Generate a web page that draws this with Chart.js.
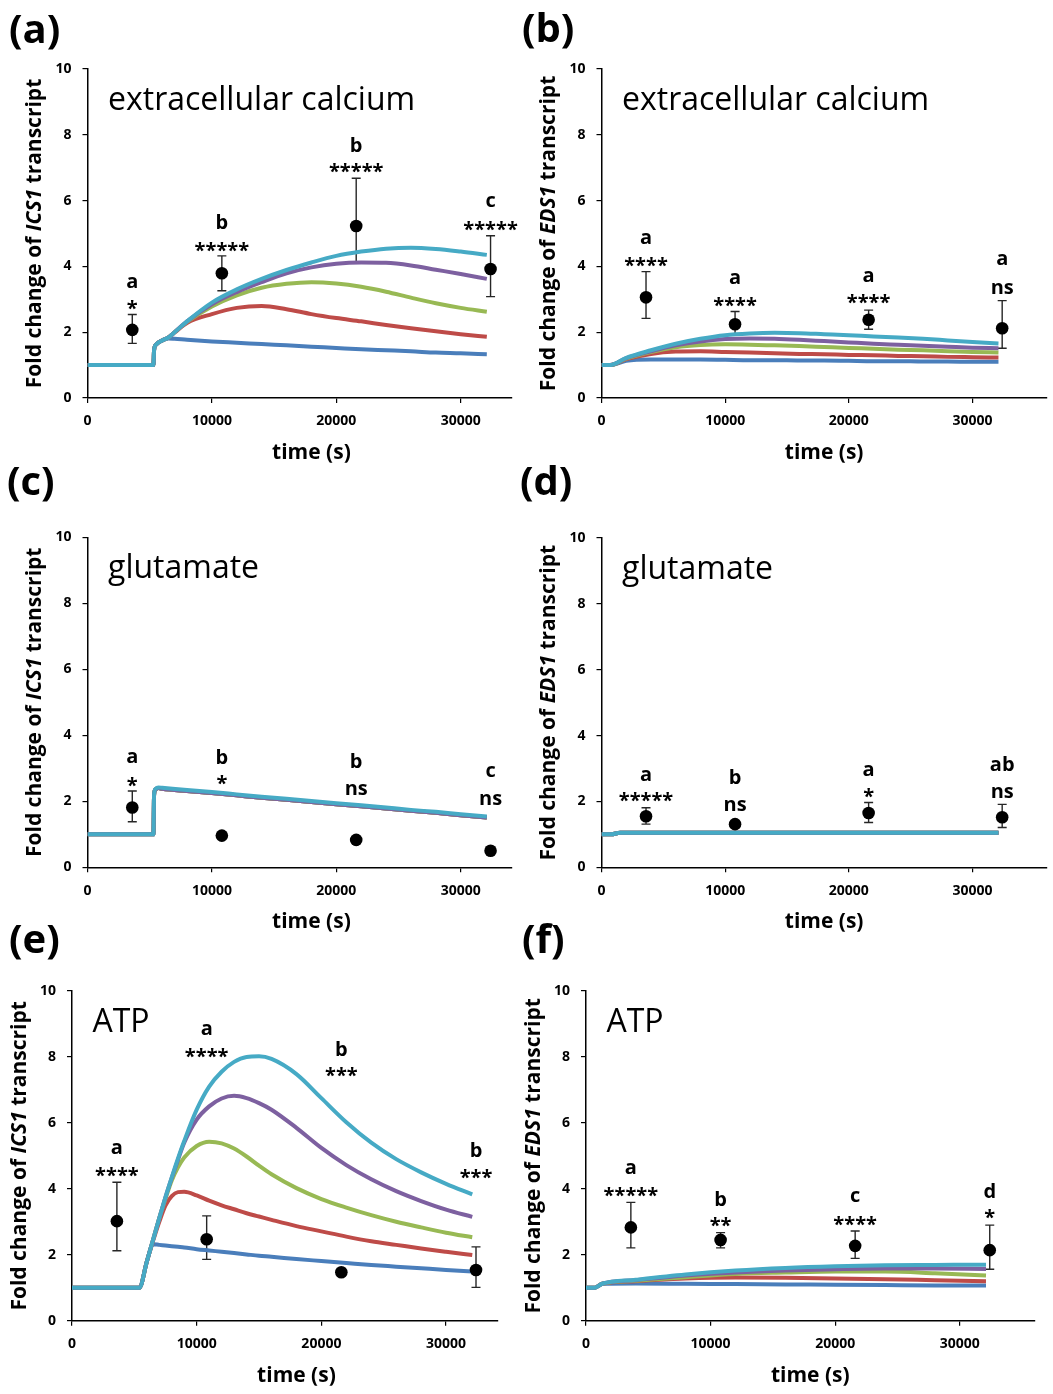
<!DOCTYPE html>
<html>
<head>
<meta charset="utf-8">
<script src="https://cdn.jsdelivr.net/npm/chart.js@4.4.1/dist/chart.umd.min.js"></script>
<style>
  body { margin: 0; background: #fff; width: 1053px; height: 1394px; position: relative; overflow: hidden; }
  .panel { position: absolute; }
  .tag { position: absolute; font: bold 40px/40px 'Open Sans', sans-serif; color: #000; z-index: 2; }
</style>
</head>
<body>
<script>
// sampling times (s) of the measured transcripts
const sampleT = [3600, 10800, 21600, 32400];

// (a) ICS1, extracellular calcium: simulated curves
const tA      = [0, 5300, 5350, 5500, 6000, 6500, 7000, 8000, 10000, 12000, 14000, 16000, 18000, 20000, 22000, 24000, 26000, 28000, 30000, 32100];
const cyanA   = [1, 1, 1.45, 1.62, 1.75, 1.84, 2.00, 2.33, 2.90, 3.30, 3.62, 3.89, 4.12, 4.32, 4.45, 4.54, 4.57, 4.53, 4.45, 4.35];
const purpleA = [1, 1, 1.45, 1.62, 1.75, 1.84, 2.00, 2.33, 2.85, 3.22, 3.52, 3.79, 3.97, 4.08, 4.12, 4.11, 4.03, 3.90, 3.77, 3.62];
const greenA  = [1, 1, 1.45, 1.62, 1.75, 1.84, 2.00, 2.31, 2.78, 3.12, 3.35, 3.47, 3.52, 3.48, 3.38, 3.23, 3.05, 2.88, 2.74, 2.62];
const redA    = [1, 1, 1.45, 1.62, 1.75, 1.84, 1.99, 2.28, 2.55, 2.74, 2.80, 2.70, 2.55, 2.43, 2.33, 2.22, 2.12, 2.03, 1.94, 1.86];
const blueA   = [1, 1, 1.45, 1.62, 1.75, 1.81, 1.80, 1.77, 1.72, 1.68, 1.64, 1.60, 1.56, 1.52, 1.48, 1.45, 1.42, 1.38, 1.36, 1.33];
const meanA = [2.07, 3.79, 5.23, 3.92];
const upA   = [0.47, 0.53, 1.45, 1.01];
const downA = [0.41, 0.53, 1.13, 0.84];
const lettersA = ['a', 'b', 'b', 'c'];
const sigA     = ['*', '*****', '*****', '*****'];
const letterYA = [3.50, 5.36, 7.72, 5.97];
const sigYA    = [2.83, 4.60, 6.99, 5.24];

// (b) EDS1, extracellular calcium
const tB      = [0, 700, 2000, 4000, 6000, 8000, 10000, 12000, 14000, 16000, 18000, 20000, 22000, 24000, 26000, 28000, 30000, 32100];
const cyanB   = [1, 1, 1.22, 1.45, 1.65, 1.80, 1.91, 1.96, 1.98, 1.97, 1.94, 1.91, 1.87, 1.84, 1.80, 1.75, 1.70, 1.66];
const purpleB = [1, 1, 1.21, 1.42, 1.60, 1.72, 1.79, 1.81, 1.80, 1.77, 1.73, 1.69, 1.65, 1.62, 1.59, 1.56, 1.53, 1.51];
const greenB  = [1, 1, 1.20, 1.40, 1.54, 1.61, 1.63, 1.62, 1.60, 1.58, 1.55, 1.52, 1.50, 1.47, 1.45, 1.42, 1.40, 1.38];
const redB    = [1, 1, 1.18, 1.34, 1.41, 1.42, 1.40, 1.38, 1.36, 1.34, 1.33, 1.31, 1.30, 1.28, 1.27, 1.25, 1.24, 1.23];
const blueB   = [1, 1, 1.13, 1.17, 1.17, 1.17, 1.16, 1.15, 1.15, 1.14, 1.14, 1.13, 1.12, 1.12, 1.11, 1.11, 1.10, 1.10];
const meanB = [3.06, 2.24, 2.38, 2.12];
const upB   = [0.78, 0.39, 0.29, 0.84];
const downB = [0.64, 0.33, 0.29, 0.61];
const lettersB = ['a', 'a', 'a', 'a'];
const sigB     = ['****', '****', '****', 'ns'];
const letterYB = [4.84, 3.63, 3.69, 4.22];
const sigYB    = [4.14, 2.93, 3.00, 3.32];

// (c) ICS1, glutamate (all five curves nearly coincide)
const tC    = [0, 5300, 5350, 5450, 5700, 6000, 8000, 10000, 12000, 14000, 16000, 18000, 20000, 22000, 24000, 26000, 28000, 30000, 32100];
const cyanC = [1, 1, 2.20, 2.37, 2.42, 2.41, 2.34, 2.28, 2.21, 2.14, 2.08, 2.01, 1.94, 1.88, 1.81, 1.74, 1.68, 1.61, 1.54];
const lowC  = [1, 1, 2.18, 2.35, 2.40, 2.38, 2.31, 2.25, 2.18, 2.11, 2.05, 1.98, 1.91, 1.85, 1.78, 1.71, 1.65, 1.58, 1.51];
const meanC = [1.81, 0.96, 0.83, 0.50];
const upC   = [0.50, 0.05, 0.10, 0.06];
const downC = [0.43, 0.05, 0.10, 0.06];
const lettersC = ['a', 'b', 'b', 'c'];
const sigC     = ['*', '*', 'ns', 'ns'];
const letterYC = [3.32, 3.37, 3.25, 2.90];
const sigYC    = [2.59, 2.65, 2.36, 2.04];

// (d) EDS1, glutamate
const tD    = [0, 800, 1500, 16000, 32100];
const flatD = [1, 1, 1.05, 1.05, 1.05];
const meanD = [1.55, 1.31, 1.65, 1.52];
const upD   = [0.26, 0.10, 0.32, 0.39];
const downD = [0.24, 0.10, 0.29, 0.31];
const lettersD = ['a', 'b', 'a', 'ab'];
const sigD     = ['*****', 'ns', '*', 'ns'];
const letterYD = [2.80, 2.75, 2.95, 3.15];
const sigYD    = [2.12, 1.87, 2.27, 2.27];

// (e) ICS1, ATP
const tE      = [0, 5400, 6000, 6500, 7000, 7500, 8000, 8500, 9000, 10000, 11000, 12000, 13000, 14000, 15000, 16000, 18000, 20000, 22000, 24000, 26000, 28000, 30000, 32100];
const cyanE   = [1, 1, 1.79, 2.45, 3.11, 3.75, 4.35, 4.92, 5.45, 6.40, 7.10, 7.55, 7.85, 8.00, 8.02, 7.94, 7.48, 6.75, 6.02, 5.40, 4.90, 4.50, 4.15, 3.83];
const purpleE = [1, 1, 1.79, 2.45, 3.11, 3.75, 4.33, 4.88, 5.40, 6.10, 6.50, 6.74, 6.82, 6.75, 6.60, 6.40, 5.85, 5.24, 4.72, 4.29, 3.93, 3.63, 3.37, 3.15];
const greenE  = [1, 1, 1.79, 2.45, 3.11, 3.70, 4.25, 4.65, 4.95, 5.30, 5.43, 5.38, 5.22, 4.98, 4.70, 4.44, 4.02, 3.69, 3.43, 3.20, 3.00, 2.83, 2.67, 2.53];
const redE    = [1, 1, 1.79, 2.42, 3.00, 3.50, 3.78, 3.90, 3.91, 3.80, 3.64, 3.50, 3.38, 3.26, 3.16, 3.06, 2.87, 2.71, 2.55, 2.41, 2.30, 2.19, 2.09, 1.99];
const blueE   = [1, 1, 1.79, 2.32, 2.30, 2.28, 2.26, 2.24, 2.22, 2.17, 2.13, 2.09, 2.05, 2.01, 1.97, 1.94, 1.87, 1.81, 1.75, 1.69, 1.64, 1.59, 1.54, 1.49];
const meanE = [3.02, 2.47, 1.47, 1.54];
const upE   = [1.18, 0.71, 0.10, 0.70];
const downE = [0.90, 0.61, 0.10, 0.53];
const lettersE = ['a', 'a', 'b', 'b'];
const sigE     = ['****', '****', '***', '***'];
const letterYE = [5.22, 8.82, 8.26, 5.18];
const sigYE    = [4.52, 8.11, 7.53, 4.44];

// (f) EDS1, ATP
const tF      = [0, 700, 1300, 4000, 8000, 12000, 16000, 20000, 24000, 28000, 32100];
const cyanF   = [1, 1, 1.12, 1.24, 1.40, 1.52, 1.60, 1.65, 1.68, 1.69, 1.70];
const purpleF = [1, 1, 1.12, 1.23, 1.37, 1.46, 1.52, 1.56, 1.58, 1.58, 1.57];
const greenF  = [1, 1, 1.12, 1.21, 1.32, 1.42, 1.46, 1.49, 1.49, 1.44, 1.37];
const redF    = [1, 1, 1.12, 1.20, 1.28, 1.31, 1.30, 1.28, 1.26, 1.23, 1.20];
const blueF   = [1, 1, 1.12, 1.13, 1.12, 1.11, 1.10, 1.09, 1.08, 1.07, 1.07];
const meanF = [2.83, 2.45, 2.27, 2.14];
const upF   = [0.76, 0.22, 0.45, 0.76];
const downF = [0.62, 0.24, 0.38, 0.58];
const lettersF = ['a', 'b', 'c', 'd'];
const sigF     = ['*****', '**', '****', '*'];
const letterYF = [4.62, 3.71, 3.76, 3.96];
const sigYF    = [3.89, 2.98, 3.02, 3.24];

const yTicks = [0, 2, 4, 6, 8, 10];
const xTicks = [0, 10000, 20000, 30000];

// series colours, drawn back to front: blue, red, green, purple, cyan on top
const colors = ['#46AAC5', '#7D60A0', '#98B954', '#BE4B48', '#4A7EBB'];

const FONT = "'Open Sans', sans-serif";
Chart.defaults.font.family = FONT;

// box = canvas [left, top, width, height] on the page, area = plot area [left, top, right, bottom]
// the left column is cut short, so its time axis stops before 36000 s
const panels = [
  { tag: '(a)', tagPos: [9, 8], box: [0, 40, 548, 430], area: [87.5, 69, 511.7, 398], xMax: 34100,
    gene: 'ICS1', title: 'extracellular calcium', t: tA, series: [cyanA, purpleA, greenA, redA, blueA],
    mean: meanA, up: upA, down: downA, letters: lettersA, sig: sigA, letterY: letterYA, sigY: sigYA },
  { tag: '(b)', tagPos: [522, 7], box: [520, 40, 533, 430], area: [601.5, 69, 1049.5, 398], xMax: 36000,
    gene: 'EDS1', title: 'extracellular calcium', t: tB, series: [cyanB, purpleB, greenB, redB, blueB],
    mean: meanB, up: upB, down: downB, letters: lettersB, sig: sigB, letterY: letterYB, sigY: sigYB },
  { tag: '(c)', tagPos: [7, 460], box: [0, 505, 548, 430], area: [87.5, 537.3, 511.7, 867.3], xMax: 34100,
    gene: 'ICS1', title: 'glutamate', t: tC, series: [cyanC, lowC, lowC, lowC, lowC],
    mean: meanC, up: upC, down: downC, letters: lettersC, sig: sigC, letterY: letterYC, sigY: sigYC },
  { tag: '(d)', tagPos: [520, 460], box: [520, 505, 533, 430], area: [601.5, 538, 1049.5, 867.3], xMax: 36000,
    gene: 'EDS1', title: 'glutamate', t: tD, series: [flatD, flatD, flatD, flatD, flatD],
    mean: meanD, up: upD, down: downD, letters: lettersD, sig: sigD, letterY: letterYD, sigY: sigYD },
  { tag: '(e)', tagPos: [9, 918], box: [0, 960, 548, 434], area: [72, 991, 497.2, 1320.7], xMax: 34100,
    gene: 'ICS1', title: 'ATP', t: tE, series: [cyanE, purpleE, greenE, redE, blueE],
    mean: meanE, up: upE, down: downE, letters: lettersE, sig: sigE, letterY: letterYE, sigY: sigYE },
  { tag: '(f)', tagPos: [522, 918], box: [520, 960, 533, 434], area: [586, 991, 1034.6, 1320.7], xMax: 36000,
    gene: 'EDS1', title: 'ATP', t: tF, series: [cyanF, purpleF, greenF, redF, blueF],
    mean: meanF, up: upF, down: downF, letters: lettersF, sig: sigF, letterY: letterYF, sigY: sigYF }
];

// draw text so that its glyphs are vertically centred on cy
function textMid(ctx, text, x, cy) {
  const m = ctx.measureText(text);
  ctx.fillText(text, x, cy + (m.actualBoundingBoxAscent - m.actualBoundingBoxDescent) / 2);
}

function decorPlugin(p) {
  return {
    id: 'decor',
    beforeDatasetsDraw(chart) {
      // error bars sit under the curves
      const ctx = chart.ctx, x = chart.scales.x, y = chart.scales.y;
      ctx.save();
      ctx.strokeStyle = '#262626';
      ctx.lineWidth = 1.4;
      sampleT.forEach((t, i) => {
        const px = x.getPixelForValue(t);
        const top = y.getPixelForValue(p.mean[i] + p.up[i]);
        const bot = y.getPixelForValue(p.mean[i] - p.down[i]);
        ctx.beginPath();
        ctx.moveTo(px, top); ctx.lineTo(px, bot);
        ctx.moveTo(px - 4.5, top); ctx.lineTo(px + 4.5, top);
        ctx.moveTo(px - 4.5, bot); ctx.lineTo(px + 4.5, bot);
        ctx.stroke();
      });
      ctx.restore();
    },
    afterDatasetsDraw(chart) {
      // group letters and significance stars above each sample
      const ctx = chart.ctx, x = chart.scales.x, y = chart.scales.y;
      ctx.save();
      ctx.fillStyle = '#000';
      ctx.textAlign = 'center';
      ctx.textBaseline = 'alphabetic';
      ctx.font = 'bold 20px ' + FONT;
      sampleT.forEach((t, i) => {
        const px = x.getPixelForValue(t);
        textMid(ctx, p.letters[i], px, y.getPixelForValue(p.letterY[i]));
        textMid(ctx, p.sig[i], px, y.getPixelForValue(p.sigY[i]));
      });
      ctx.restore();
    },
    afterDraw(chart) {
      const ctx = chart.ctx, a = chart.chartArea;
      ctx.save();
      ctx.fillStyle = '#000';
      // treatment name
      ctx.font = '32px ' + FONT;
      ctx.textAlign = 'left';
      ctx.textBaseline = 'alphabetic';
      ctx.fillText(p.title, a.left + 20.5, a.top + 41);
      // x axis title, centred on the full 0-36000 s span
      ctx.font = 'bold 21px ' + FONT;
      ctx.textAlign = 'center';
      textMid(ctx, 'time (s)', chart.scales.x.getPixelForValue(18000), a.bottom + 55);
      // y axis title with italic gene name
      const parts = [['Fold change of ', false], [p.gene, true], [' transcript', false]];
      const fontOf = it => (it ? 'italic ' : '') + 'bold 21px ' + FONT;
      let total = 0;
      parts.forEach(([s, it]) => { ctx.font = fontOf(it); total += ctx.measureText(s).width; });
      ctx.translate(a.left - 52, (a.top + a.bottom) / 2);
      ctx.rotate(-Math.PI / 2);
      ctx.textAlign = 'left';
      ctx.textBaseline = 'middle';
      let cx = -total / 2;
      parts.forEach(([s, it]) => {
        ctx.font = fontOf(it);
        ctx.fillText(s, cx, 0);
        cx += ctx.measureText(s).width;
      });
      ctx.restore();
    }
  };
}

panels.forEach(p => {
  const [bx, by, bw, bh] = p.box;
  const [L, T, R, B] = p.area;

  const tag = document.createElement('div');
  tag.className = 'tag';
  tag.textContent = p.tag;
  tag.style.left = p.tagPos[0] + 'px';
  tag.style.top = p.tagPos[1] + 'px';
  document.body.appendChild(tag);

  const wrap = document.createElement('div');
  wrap.className = 'panel';
  wrap.style.left = bx + 'px';
  wrap.style.top = by + 'px';
  wrap.style.width = bw + 'px';
  wrap.style.height = bh + 'px';
  const canvas = document.createElement('canvas');
  canvas.width = bw;
  canvas.height = bh;
  canvas.style.width = bw + 'px';
  canvas.style.height = bh + 'px';
  wrap.appendChild(canvas);
  document.body.appendChild(wrap);

  const datasets = [{
    label: 'measured',
    data: sampleT.map((t, i) => ({ x: t, y: p.mean[i] })),
    showLine: false,
    pointRadius: 6.3,
    pointBorderWidth: 0,
    pointBackgroundColor: '#000',
    borderColor: '#000'
  }];
  p.series.forEach((v, k) => {
    datasets.push({
      label: 'model ' + (k + 1),
      data: p.t.map((t, i) => ({ x: t, y: v[i] })),
      borderColor: colors[k],
      borderWidth: 4,
      pointRadius: 0,
      cubicInterpolationMode: 'monotone',
      fill: false
    });
  });

  const axisGrid = { drawOnChartArea: false, drawTicks: true, tickLength: 5, color: '#000', lineWidth: 1.2 };
  const axisBorder = { color: '#000', width: 1.5 };

  new Chart(canvas, {
    type: 'line',
    data: { datasets },
    options: {
      responsive: false,
      animation: false,
      devicePixelRatio: 1,
      layout: { padding: { left: 0, top: T - by, right: bx + bw - R, bottom: 0 } },
      plugins: { legend: { display: false }, tooltip: { enabled: false } },
      scales: {
        x: {
          type: 'linear', min: 0, max: p.xMax,
          afterFit: s => { s.height = by + bh - B; },
          afterBuildTicks: s => { s.ticks = xTicks.map(v => ({ value: v })); },
          ticks: { color: '#000', font: { size: 14, weight: 'bold' }, padding: 10, maxRotation: 0, autoSkip: false,
                   callback: v => String(v) },
          grid: axisGrid,
          border: axisBorder
        },
        y: {
          min: 0, max: 10,
          afterFit: s => { s.width = L - bx; },
          afterBuildTicks: s => { s.ticks = yTicks.map(v => ({ value: v })); },
          ticks: { color: '#000', font: { size: 14, weight: 'bold' }, padding: 11, callback: v => String(v) },
          grid: axisGrid,
          border: axisBorder
        }
      }
    },
    plugins: [decorPlugin(p)]
  });
});
</script>
</body>
</html>
